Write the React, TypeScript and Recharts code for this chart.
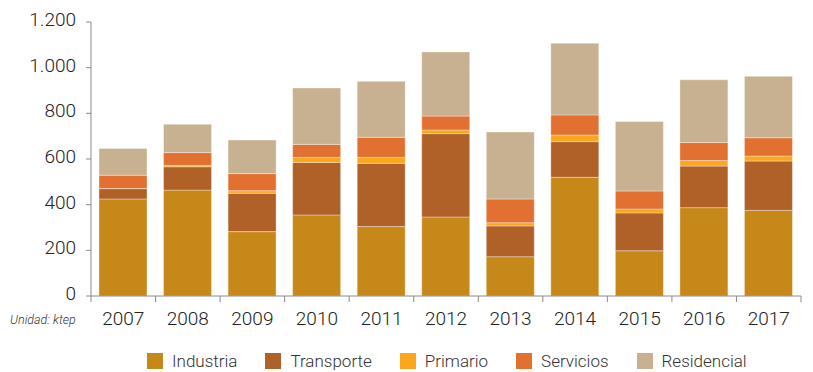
import { Bar, BarChart, Legend, XAxis, YAxis } from 'recharts';

const years = ['2007', '2008', '2009', '2010', '2011', '2012', '2013', '2014', '2015', '2016', '2017'];
const industria = [425, 464, 282, 355, 304, 346, 172, 520, 198, 387, 375];
const transporte = [45, 102, 168, 230, 277, 365, 135, 156, 166, 182, 216];
const primario = [1, 6, 11, 22, 26, 16, 14, 29, 17, 24, 22];
const servicios = [58, 56, 75, 57, 88, 61, 104, 88, 79, 79, 80];
const residencial = [117, 124, 147, 247, 245, 281, 293, 314, 304, 275, 269];
const yTicks = [0, 200, 400, 600, 800, 1000, 1200];

const series = [
  { key: 'industria', name: 'Industria', fill: '#C68819' },
  { key: 'transporte', name: 'Transporte', fill: '#AF6128' },
  { key: 'primario', name: 'Primario', fill: '#FAA61E' },
  { key: 'servicios', name: 'Servicios', fill: '#E17031' },
  { key: 'residencial', name: 'Residencial', fill: '#C7B190' },
];

const data = years.map((year, i) => ({
  year,
  industria: industria[i],
  transporte: transporte[i],
  primario: primario[i],
  servicios: servicios[i],
  residencial: residencial[i],
}));

const AXIS_GREY = '#8a8a8a';
const FONT = 'Roboto, "Noto Sans", sans-serif';
const BAND_HALF = (813 - 91 - 12) / years.length / 2;

const formatThousands = (v: number) => v.toLocaleString('de-DE');

function YearTick(props: any) {
  const { x, y, payload, index } = props;
  const half = payload?.offset || BAND_HALF;
  const axisY = y - 8;
  return (
    <g>
      <line x1={x - half} x2={x - half} y1={axisY} y2={axisY + 6} stroke={AXIS_GREY} />
      {index === years.length - 1 && (
        <line x1={x + half} x2={x + half} y1={axisY} y2={axisY + 6} stroke={AXIS_GREY} />
      )}
      <text x={x} y={y + 21} textAnchor="middle" fill="#222" fontSize={19} fontWeight={300} fontFamily={FONT}>
        {payload.value}
      </text>
    </g>
  );
}

function ValueTick(props: any) {
  const { x, y, payload } = props;
  return (
    <text x={x} y={y + 4} textAnchor="end" fill="#222" fontSize={19} fontWeight={300} fontFamily={FONT}>
      {formatThousands(payload.value)}
    </text>
  );
}

function LegendContent() {
  return (
    <div
      style={{
        height: 36,
        boxSizing: 'border-box',
        paddingTop: 14,
        paddingLeft: 147,
        display: 'flex',
        alignItems: 'center',
        gap: 28,
        fontFamily: FONT,
        fontSize: 17,
        fontWeight: 300,
        color: '#333',
        lineHeight: '18px',
      }}
    >
      {series.map((s) => (
        <div key={s.key} style={{ display: 'flex', alignItems: 'center', gap: 9 }}>
          <span style={{ width: 16, height: 16, background: s.fill, display: 'inline-block' }} />
          <span>{s.name}</span>
        </div>
      ))}
    </div>
  );
}

export default function App() {
  return (
    <div style={{ position: 'absolute', left: 0, top: 0, width: 813, height: 372, background: '#fff' }}>
      <BarChart width={813} height={372} data={data} margin={{ top: 22, right: 12, left: 0, bottom: 0 }}>
        <XAxis
          dataKey="year"
          height={40}
          tickSize={6}
          tickMargin={2}
          tickLine={false}
          axisLine={{ stroke: AXIS_GREY }}
          tick={<YearTick />}
          interval={0}
        />
        <YAxis
          width={91}
          domain={[0, 1200]}
          ticks={yTicks}
          tickSize={5}
          tickMargin={10}
          axisLine={{ stroke: AXIS_GREY }}
          tickLine={{ stroke: AXIS_GREY }}
          tick={<ValueTick />}
          interval={0}
        />
        <Legend verticalAlign="bottom" height={36} content={<LegendContent />} />
        {series.map((s) => (
          <Bar
            key={s.key}
            dataKey={s.key}
            name={s.name}
            stackId="total"
            fill={s.fill}
            barSize={48}
            stroke="rgba(255,255,255,0.35)"
            strokeWidth={1}
            isAnimationActive={false}
          />
        ))}
      </BarChart>
      <div
        style={{
          position: 'absolute',
          left: 10,
          top: 312,
          fontFamily: FONT,
          fontSize: 12.5,
          fontStyle: 'italic',
          fontWeight: 300,
          color: '#333',
        }}
      >
        Unidad: ktep
      </div>
    </div>
  );
}
